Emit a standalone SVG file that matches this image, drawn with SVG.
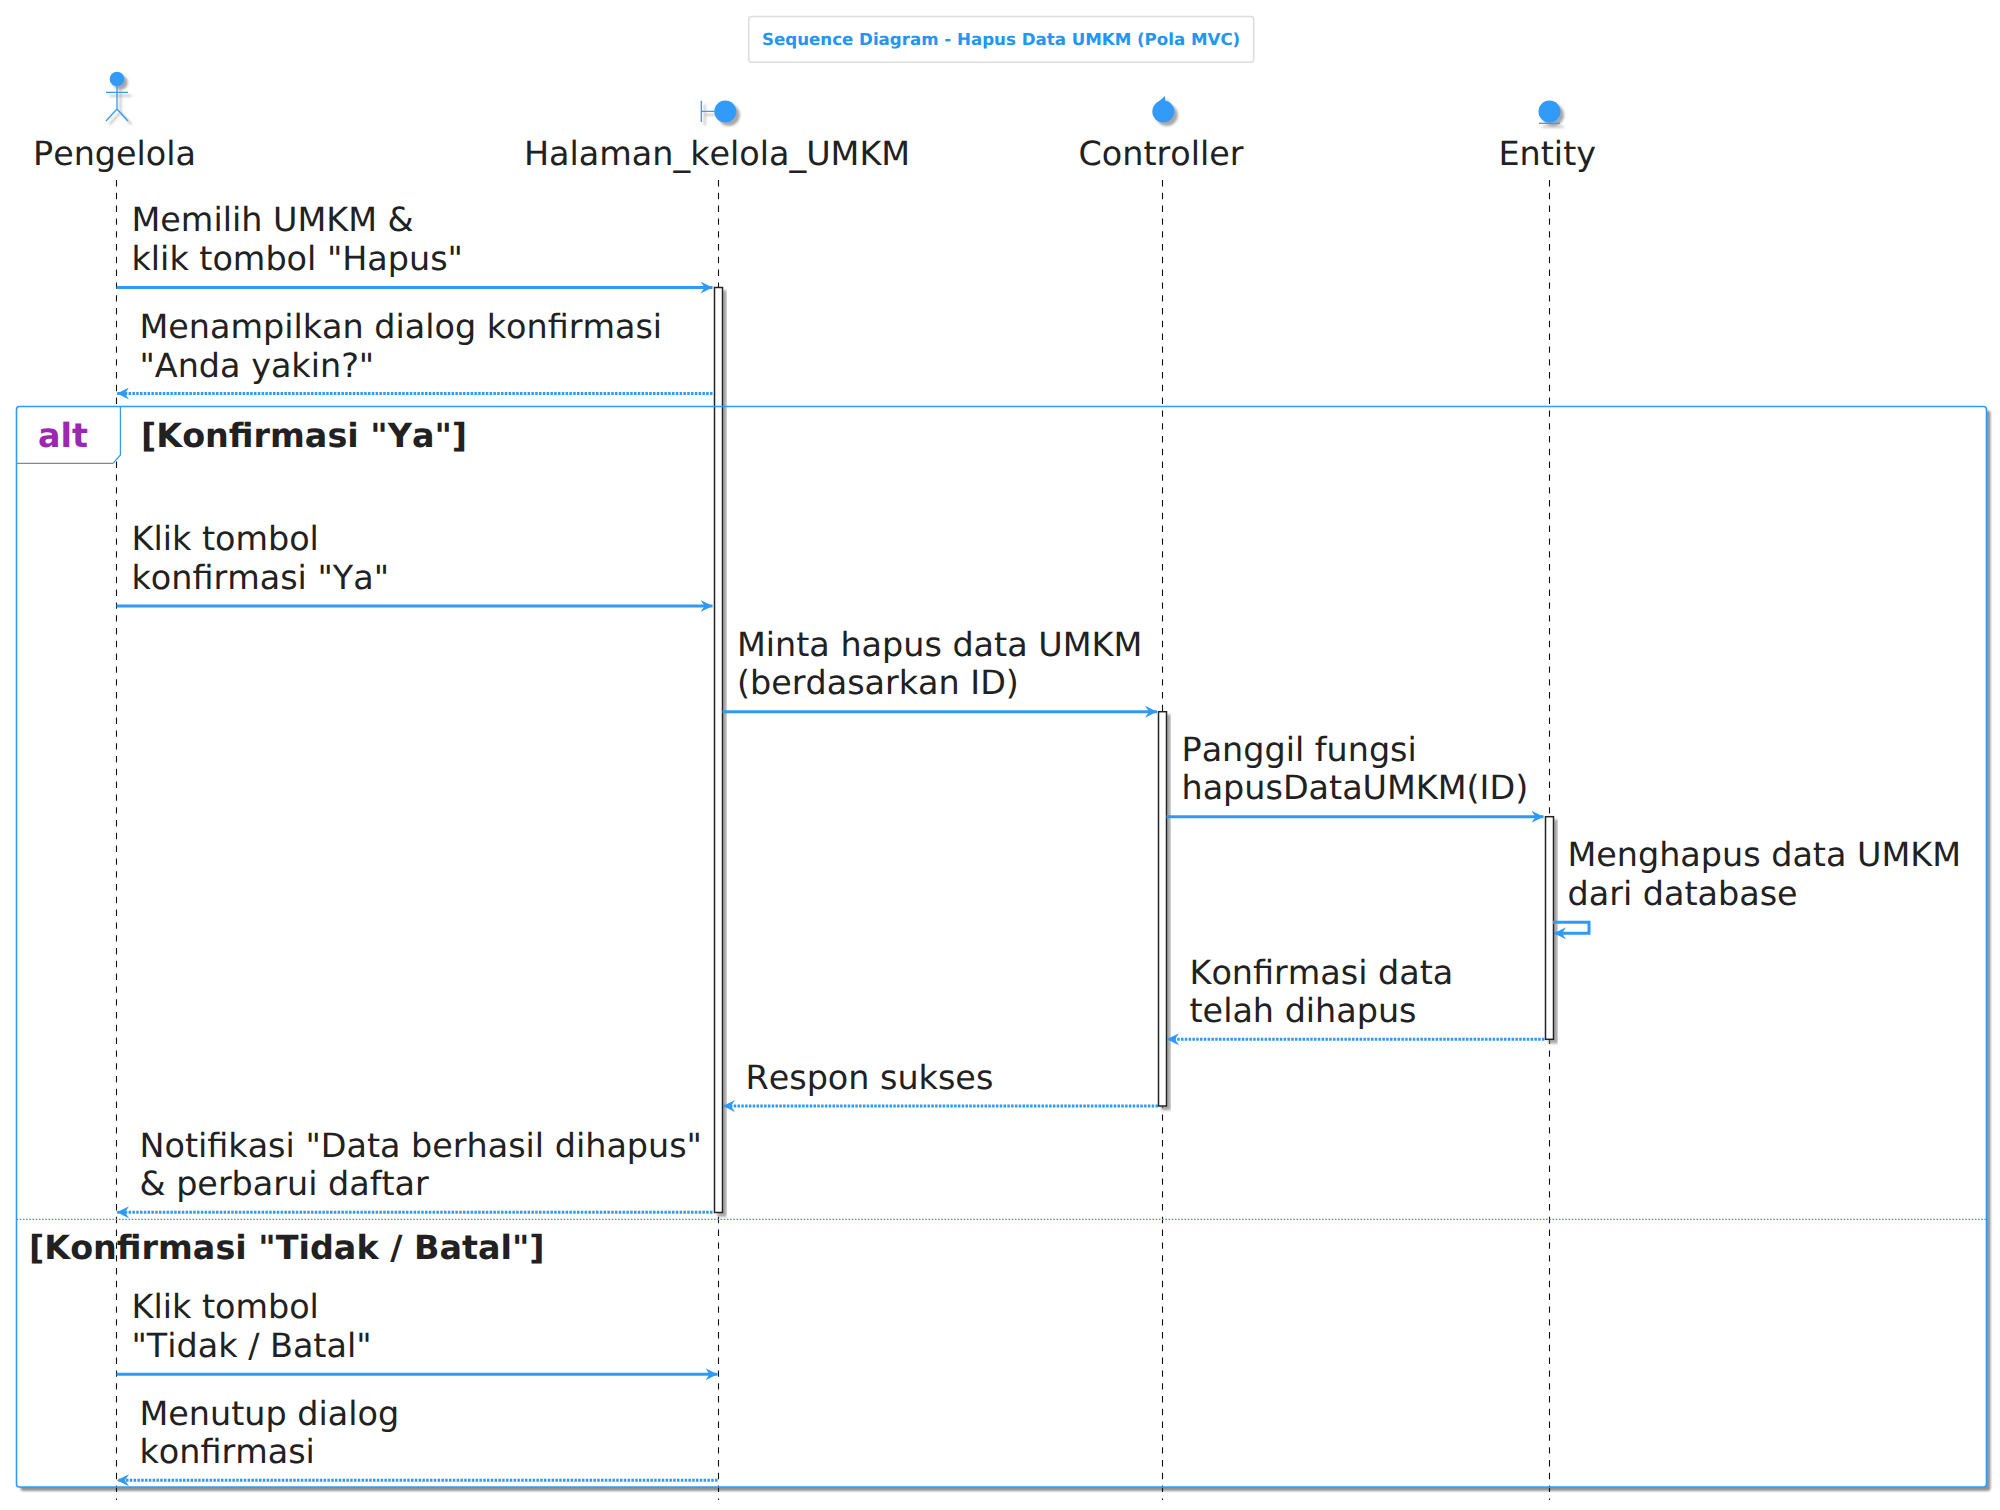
<svg xmlns="http://www.w3.org/2000/svg" width="2000" height="1510" viewBox="0 0 2000 1510">
<style>
text{font-family:"DejaVu Sans",sans-serif;font-size:33.4px;fill:#212121;font-kerning:none;text-rendering:geometricPrecision}
.b{font-weight:700}
.title{font-size:16.65px;font-weight:700;fill:#2196f3}
.alt{font-weight:700;fill:#9c27b0}
.life{stroke:#111;stroke-width:1.1;stroke-dasharray:6.4 6.4;fill:none}
.act{fill:#fff;stroke:#212121;stroke-width:1.5;filter:url(#s)}
.ico{fill:#339af8}
.icl{stroke:#339af8;stroke-width:1.3;fill:none}
.m{stroke:#2f9af5;stroke-width:3;fill:none}
.r{stroke:#2f9af5;stroke-width:3;stroke-dasharray:2.5 1.3;fill:none}
.h{fill:#2f9af5}
</style>
<defs>
<filter id="s" x="-50%" y="-50%" width="200%" height="200%"><feDropShadow dx="3.5" dy="3.5" stdDeviation="1.2" flood-color="#777" flood-opacity=".65"/></filter>
<filter id="sf" x="-5%" y="-5%" width="110%" height="110%"><feDropShadow dx="4" dy="4" stdDeviation="1.2" flood-color="#777" flood-opacity=".8"/></filter>
<marker id="a" viewBox="0 0 13 12" markerWidth="13" markerHeight="12" refX="12" refY="6" orient="auto-start-reverse" markerUnits="userSpaceOnUse"><path class="h" d="M0 0L12 6L0 12L4 6Z"/></marker>
</defs>
<rect x="16.5" y="406.5" width="1970" height="1080.5" rx="3" fill="#fff" filter="url(#sf)"/>
<g id="lifelines">
<path class="life" d="M116.5 180V1500"/>
<path class="life" d="M718.5 180V1500"/>
<path class="life" d="M1162.5 180V1500"/>
<path class="life" d="M1549.5 180V1500"/>
</g>
<g id="activations">
<rect class="act" x="714.5" y="287.5" width="8" height="925"/>
<rect class="act" x="1158.5" y="711.7" width="8" height="394.3"/>
<rect class="act" x="1545.5" y="816.7" width="8" height="222.6"/>
</g>
<g id="alt-frame">
<path d="M16.5 406.5H120.4V455L113 463.3H16.5Z" fill="#fff" stroke="none"/>
<rect x="16.5" y="406.5" width="1970" height="1080.5" rx="3" fill="none" stroke="#2f9af5" stroke-width="1.6"/>
<path d="M120.4 406.5V455L113 463.3" fill="none" stroke="#2f9af5" stroke-width="1.2"/>
<path d="M113 463.3H16.5" fill="none" stroke="#888" stroke-width="1.2"/>
<path d="M16.5 1219.3H1986" fill="none" stroke="#2f9af5" stroke-width="1.3" stroke-dasharray="1.6 1.6"/>
<text class="alt" x="38" y="446.7">alt</text>
<text class="b" x="141" y="447.2">[Konfirmasi "Ya"]</text>
<text class="b" x="29" y="1259.2">[Konfirmasi "Tidak / Batal"]</text>
</g>
<g id="title">
<rect x="748.7" y="16.5" width="505" height="45.8" rx="3" fill="#fff" stroke="#ddd" stroke-width="1.6"/>
<text class="title" x="762" y="45.3">Sequence Diagram - Hapus Data UMKM (Pola MVC)</text>
</g>
<g id="Pengelola">
<g filter="url(#s)"><circle class="ico" cx="117" cy="79" r="7.3"/><path class="icl" d="M117 86V109M106 92.3H128M106 121L117 109L128 121"/></g>
<text x="33" y="164.7">Pengelola</text>
</g>
<g id="Halaman_kelola_UMKM">
<g filter="url(#s)"><path class="icl" d="M701.3 100.7V122M701.3 111.3H716"/><circle class="ico" cx="725.3" cy="111.5" r="11"/></g>
<text x="524" y="164.7">Halaman_kelola_UMKM</text>
</g>
<g id="Controller">
<g filter="url(#s)"><circle class="ico" cx="1163.3" cy="111.5" r="11"/><path class="ico" d="M1165 96L1157.5 102.5L1166 106.5Z"/></g>
<text x="1078.5" y="164.7">Controller</text>
</g>
<g id="Entity">
<g filter="url(#s)"><circle class="ico" cx="1549.5" cy="111.5" r="11"/><path class="icl" d="M1539 123.3H1560"/></g>
<text x="1498.5" y="164.7">Entity</text>
</g>
<g id="connectors">
<path class="m" marker-end="url(#a)" d="M116.5 287.5H712.5"/>
<path class="r" marker-end="url(#a)" d="M712.5 393.5H117"/>
<path class="m" marker-end="url(#a)" d="M116.5 606H712.5"/>
<path class="m" marker-end="url(#a)" d="M722.5 711.7H1157"/>
<path class="m" marker-end="url(#a)" d="M1166.5 816.7H1543.5"/>
<path class="m" marker-end="url(#a)" d="M1553 922.3H1589V933.3H1554"/>
<path class="r" marker-end="url(#a)" d="M1544.5 1039.3H1167"/>
<path class="r" marker-end="url(#a)" d="M1158 1106H723"/>
<path class="r" marker-end="url(#a)" d="M712.5 1212.3H117"/>
<path class="m" marker-end="url(#a)" d="M116.5 1374.3H717.5"/>
<path class="r" marker-end="url(#a)" d="M717.5 1480.3H117"/>
</g>
<g id="labels">
<text x="131.5" y="231.4">Memilih UMKM &amp;</text>
<text x="131.5" y="270">klik tombol "Hapus"</text>
<text x="139.5" y="338">Menampilkan dialog konfirmasi</text>
<text x="139.5" y="376.7">"Anda yakin?"</text>
<text x="131.5" y="549.9">Klik tombol</text>
<text x="131.5" y="588.5">konfirmasi "Ya"</text>
<text x="737" y="655.6">Minta hapus data UMKM</text>
<text x="737" y="694.2">(berdasarkan ID)</text>
<text x="1181.5" y="760.6">Panggil fungsi</text>
<text x="1181.5" y="799.2">hapusDataUMKM(ID)</text>
<text x="1567.5" y="866.2">Menghapus data UMKM</text>
<text x="1567.5" y="904.7">dari database</text>
<text x="1189.5" y="983.6">Konfirmasi data</text>
<text x="1189.5" y="1022.2">telah dihapus</text>
<text x="745.5" y="1088.7">Respon sukses</text>
<text x="139.5" y="1156.6">Notifikasi "Data berhasil dihapus"</text>
<text x="139.5" y="1195.2">&amp; perbarui daftar</text>
<text x="131.5" y="1318.2">Klik tombol</text>
<text x="131.5" y="1356.9">"Tidak / Batal"</text>
<text x="139.5" y="1424.5">Menutup dialog</text>
<text x="139.5" y="1463.2">konfirmasi</text>
</g>
</svg>
